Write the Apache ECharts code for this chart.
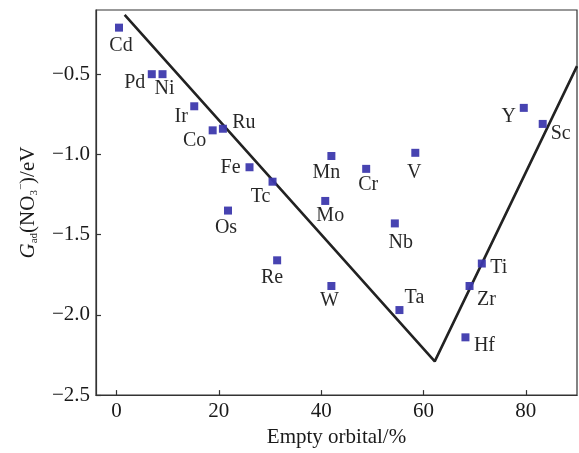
<!DOCTYPE html>
<html>
<head>
<meta charset="utf-8">
<script src="https://cdn.jsdelivr.net/npm/echarts@6/dist/echarts.min.js"></script>
<style>
  html, body { margin: 0; padding: 0; background: #fff; }
  #chart { width: 579px; height: 453px; }
</style>
</head>
<body>
<div id="chart"></div>
<script>
// ---- data ----
const elements = ['Cd', 'Pd', 'Ni', 'Ir', 'Co', 'Ru', 'Fe', 'Tc', 'Os', 'Re', 'Mn',
  'Cr', 'V', 'Mo', 'Nb', 'W', 'Ta', 'Zr', 'Ti', 'Hf', 'Y', 'Sc'];
const emptyOrbital = [0.5, 6.9, 9.0, 15.2, 18.8, 20.8, 26.0, 30.5, 21.8, 31.4, 42.0,
  48.8, 58.4, 40.8, 54.4, 42.0, 55.3, 69.0, 71.4, 68.2, 79.6, 83.3];
const gAds = [-0.21, -0.5, -0.5, -0.7, -0.85, -0.84, -1.08, -1.17, -1.35, -1.66, -1.01,
  -1.09, -0.99, -1.29, -1.43, -1.82, -1.97, -1.82, -1.68, -2.14, -0.71, -0.81];

// volcano guide line
const lineX = [1.6, 62.2, 90];
const lineY = [-0.13, -2.29, -0.45];

const xTicks = [0, 20, 40, 60, 80];
const yTicks = [-2.5, -2.0, -1.5, -1.0, -0.5];

// where each element's label sits, relative to its marker (px)
const labelOffset = {
  Cd: [2, 18], Pd: [-17, 9], Ni: [2, 15], Ir: [-13, 10], Co: [-18, 10], Ru: [21, -6],
  Fe: [-19, 1], Tc: [-12, 15], Os: [-2, 17], Re: [-5, 17], Mn: [-5, 17], Cr: [2, 16],
  V: [-1, 20], Mo: [5, 15], Nb: [6, 19], W: [-2, 15], Ta: [15, -12], Zr: [17, 14],
  Ti: [17, 4], Hf: [19, 8], Y: [-15, 9], Sc: [18, 10],
};

const FONT = '"Liberation Serif", "DejaVu Serif", serif';
const INK = '#1a1a1a';

const chart = echarts.init(document.getElementById('chart'));

const fmtNum = (v) => (v < 0 ? '\u2212' : '') + Math.abs(v).toFixed(1);

const points = elements.map((name, i) => ({
  name,
  value: [emptyOrbital[i], gAds[i]],
  label: { offset: labelOffset[name] },
}));

chart.setOption({
  animation: false,
  grid: {
    left: 96,
    right: 2,
    top: 10,
    bottom: 56,
    show: true,
    borderColor: '#333',
    borderWidth: 1.2,
  },
  xAxis: {
    type: 'value',
    min: -4,
    max: 90,
    name: 'Empty orbital/%',
    nameLocation: 'middle',
    nameGap: 29,
    nameTextStyle: { fontFamily: FONT, fontSize: 21, color: INK },
    axisLine: { onZero: false, lineStyle: { color: '#333', width: 1.2 } },
    axisTick: {
      inside: true,
      length: 5,
      customValues: xTicks,
      lineStyle: { color: '#333', width: 1.2 },
    },
    axisLabel: {
      customValues: xTicks,
      fontFamily: FONT,
      fontSize: 21,
      color: INK,
      margin: 6,
    },
    splitLine: { show: false },
  },
  yAxis: {
    type: 'value',
    min: -2.5,
    max: -0.1,
    name: '{i|G}{sub|ad}(NO{sub|3}{sup|\u2212})/eV',
    nameLocation: 'middle',
    nameRotate: 90,
    nameGap: 56,
    nameTextStyle: {
      fontFamily: FONT,
      fontSize: 21,
      color: INK,
      lineHeight: 24,
      rich: {
        i: { fontFamily: FONT, fontSize: 21, fontStyle: 'italic', color: INK, lineHeight: 24 },
        sub: { fontFamily: FONT, fontSize: 11, color: INK, lineHeight: 11, verticalAlign: 'bottom' },
        sup: { fontFamily: FONT, fontSize: 11, color: INK, lineHeight: 11, verticalAlign: 'top' },
      },
    },
    axisLine: { onZero: false, lineStyle: { color: '#333', width: 1.2 } },
    axisTick: {
      inside: true,
      length: 5,
      customValues: yTicks,
      lineStyle: { color: '#333', width: 1.2 },
    },
    axisLabel: {
      customValues: yTicks,
      formatter: fmtNum,
      fontFamily: FONT,
      fontSize: 21,
      color: INK,
      margin: 6,
    },
    splitLine: { show: false },
  },
  series: [
    {
      name: 'trend',
      type: 'line',
      data: lineX.map((x, i) => [x, lineY[i]]),
      symbol: 'none',
      lineStyle: { color: '#222', width: 2.6 },
      z: 2,
      silent: true,
    },
    {
      name: 'Gad',
      type: 'scatter',
      data: points,
      symbol: 'rect',
      symbolSize: 8,
      itemStyle: { color: '#3d39ad', opacity: 0.95 },
      z: 3,
      label: {
        show: true,
        position: 'inside',
        formatter: '{b}',
        fontFamily: FONT,
        fontSize: 20,
        color: INK,
        textBorderWidth: 0,
      },
    },
  ],
});
</script>
</body>
</html>
